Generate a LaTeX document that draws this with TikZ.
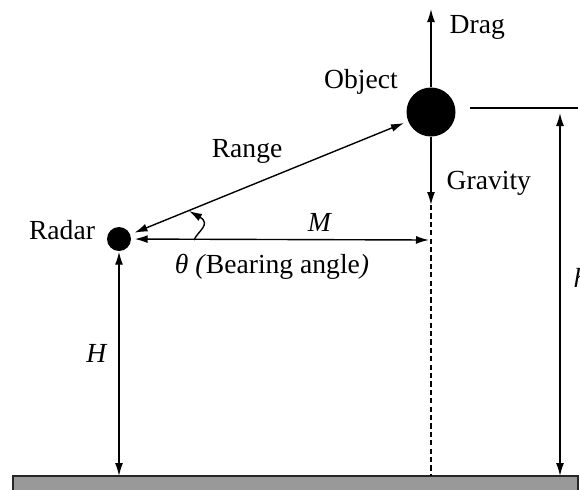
\documentclass[tikz,border=0pt]{standalone}
\usepackage{fontspec}
\setmainfont{Liberation Serif}
\usetikzlibrary{positioning,arrows.meta,calc}

\begin{document}
\begin{tikzpicture}[x=0.5pt,y=-0.5pt,line width=0.7pt,>={Latex[length=6.5pt,width=4pt]},font=\fontsize{13.8}{16}\selectfont]
\useasboundingbox (0,0) rectangle (580,489);
% ground
\draw[fill=black!40,draw=black!85] (13,476) rectangle (578,500);
\coordinate (ground) at (0,476);
% bodies
\node[circle,fill,inner sep=0,minimum size=24.5pt] (obj) at (431,112) {};
\node[circle,fill,inner sep=0,minimum size=12pt] (radar) at (119,239) {};
\node (objlabel) at (361,82) {Object};
\node (radarlabel) at (62,230) {Radar};
% forces
\coordinate (dragtip) at (431,9);
\coordinate (gravtip) at (431,205);
\draw[->] (obj) -- (dragtip);
\draw[->] (obj) -- (gravtip);
\node[anchor=west,inner sep=0] (draglabel) at (449,27) {Drag};
\node[anchor=west,inner sep=0] (gravlabel) at (446,183) {Gravity};
\draw[dashed,dash pattern=on 2.6pt off 1.6pt] (gravtip) -- (gravtip |- ground);
% range and bearing
\draw[<->,shorten <=2pt,shorten >=2pt] (radar) -- (obj) node[pos=0.42,above=8pt] (rangelabel) {Range};
\coordinate (mend) at (429,240);
\draw[<->,shorten <=1.5pt] (radar) -- (mend);
\node (mlabel) at (320,222) {\textit{M}};
\draw[->] (194,240) .. controls (197,232) and (212,224) .. (189,211);
\node (thetalabel) at (272,267) {\textit{θ (}Bearing angle\textit{)}};
% heights
\draw[<->] (radar) -- (radar |- ground);
\node (hlabel) at (97,353) {\textit{H}};
\coordinate (htop) at (560,113);
\draw (470,108) -- (578,108);
\draw[<->] (htop) -- (htop |- ground);
\node[anchor=base west,inner sep=0] (hrlabel) at (573,287) {\textit{h}};
\end{tikzpicture}
\end{document}
